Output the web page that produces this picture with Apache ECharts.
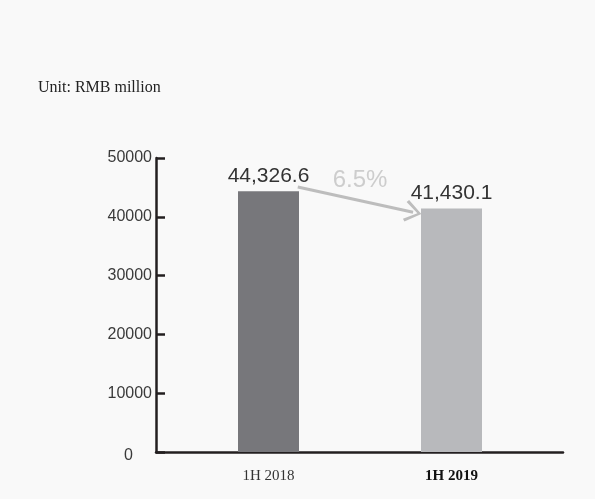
<!DOCTYPE html>
<html><head><meta charset="utf-8">
<script src="https://cdn.jsdelivr.net/npm/echarts@6/dist/echarts.min.js"></script>
<style>html,body{margin:0;padding:0;background:#f9f9f9;}#c{width:595px;height:499px;}</style>
</head><body><div id="c"></div>
<script>
const categories = ['1H 2018', '1H 2019'];
const values = [44326.6, 41430.1];
const valueLabels = ['44,326.6', '41,430.1'];
const changeLabel = '6.5%';
const yTicks = [0, 10000, 20000, 30000, 40000, 50000];
const barColors = ['#77777b', '#b8b9bc'];

const chart = echarts.init(document.getElementById('c'), null, {renderer: 'canvas'});
const chevron = 'path://M0,8.8 L5,0 L10,8.8 L8.9,10 L5,2.4 L1.1,10 Z';
const arrowStart = [0.66, values[0] + 750];
const arrowEnd = [1.29, values[1] - 650];

chart.setOption({
  backgroundColor: '#f9f9f9',
  animation: false,
  title: {
    text: 'Unit: RMB million', left: 33, top: 75,
    textStyle: {fontFamily: 'Liberation Serif', fontSize: 16, fontWeight: 'normal', color: '#222'}
  },
  grid: [
    {left: 156, right: 32, top: 158, bottom: 47},
    {left: 177, right: 52, top: 158, bottom: 47}
  ],
  xAxis: [
    {gridIndex: 0, type: 'value', min: 0, max: 1,
     axisLine: {show: true, lineStyle: {color: '#231f20', width: 2.5}},
     axisTick: {show: false}, axisLabel: {show: false}, splitLine: {show: false}},
    {gridIndex: 1, type: 'category', data: categories.map((c, i) => ({
        value: c,
        textStyle: i === 1 ? {fontWeight: 'bold', color: '#111'} : {fontWeight: 'normal', color: '#333'}
      })),
     axisLine: {show: false}, axisTick: {show: false},
     axisLabel: {fontFamily: 'Liberation Serif', fontSize: 15, margin: 17}},
    {gridIndex: 1, type: 'value', min: 0, max: 2, show: false}
  ],
  yAxis: [
    {gridIndex: 0, type: 'value', min: yTicks[0], max: yTicks[yTicks.length - 1], interval: 10000,
     axisLine: {show: true, lineStyle: {color: '#231f20', width: 2.5}},
     axisTick: {show: true, inside: true, length: 9, lineStyle: {color: '#231f20', width: 2.5}},
     splitLine: {show: false},
     axisLabel: {
       margin: 4, fontFamily: 'Liberation Sans', fontSize: 16, color: '#3a3a3a',
       formatter: v => v === 0 ? '{z|0}' : String(v),
       rich: {z: {fontFamily: 'Liberation Sans', fontSize: 16, color: '#3a3a3a', padding: [8, 19, 0, 0]}}
     }},
    {gridIndex: 1, type: 'value', min: yTicks[0], max: yTicks[yTicks.length - 1], show: false}
  ],
  series: [
    {
      type: 'bar', xAxisIndex: 1, yAxisIndex: 1, barWidth: 61,
      data: values.map((v, i) => ({value: v, itemStyle: {color: barColors[i]}})),
      label: {show: true, position: 'top', distance: 5, fontFamily: 'Liberation Sans', fontSize: 21, color: '#333',
        formatter: p => valueLabels[p.dataIndex]}
    },
    {
      type: 'scatter', xAxisIndex: 2, yAxisIndex: 1, symbolSize: 0,
      data: [[1.0, (values[0] + values[1]) / 2 + 3400]],
      label: {show: true, position: 'inside', formatter: changeLabel,
        fontFamily: 'Liberation Sans', fontSize: 24, color: '#c2c2c2'},
      markLine: {
        silent: true, symbol: ['none', chevron], symbolSize: [22, 17],
        lineStyle: {color: '#bdbdbd', width: 3, type: 'solid'},
        label: {show: false},
        data: [[{coord: arrowStart}, {coord: arrowEnd}]]
      }
    }
  ]
});
</script></body></html>
